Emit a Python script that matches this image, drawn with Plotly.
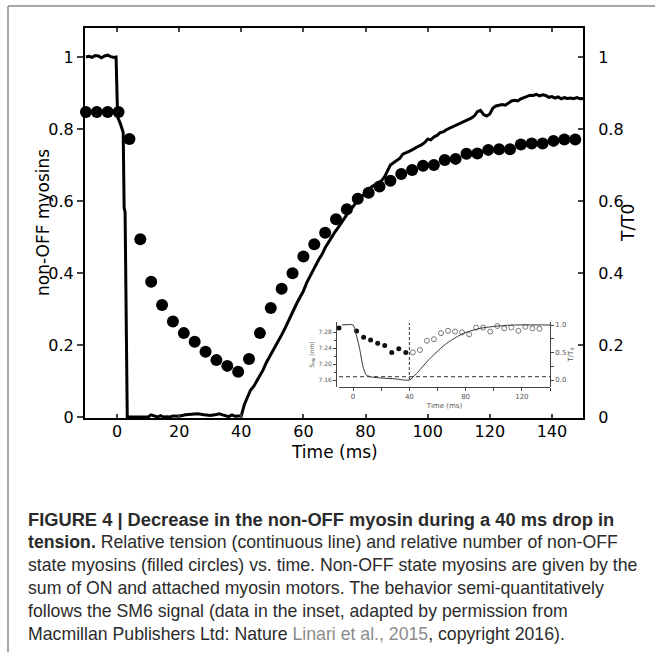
import plotly.graph_objects as go

# ---------------- data: main panel ----------------
# relative tension T/T0 (continuous line)
tension_time = [-10, -9, -8, -7, -6, -5, -4, -3, -2, -1, -0.3, 0, 0.2, 1, 2, 2.3, 2.6, 3.3,
                4, 6, 8, 10, 11, 12, 13, 14, 15, 16, 17, 18, 20, 22, 24, 26, 28, 30, 32, 33,
                34, 35, 36, 37, 38, 39, 40,
                41, 42, 43, 44, 45, 46, 47, 48, 49, 50, 51, 52, 53, 54, 55, 56, 57, 58, 59, 60,
                61, 62, 63, 64, 65, 66, 67, 68, 69, 70, 71, 72, 73, 74, 75, 76, 77, 78, 79, 80,
                81, 82, 83, 84, 85, 86, 87, 88, 89, 90, 91, 92, 93, 94, 95, 96, 97, 98, 99, 100,
                101, 102, 103, 104, 105, 106, 107, 108, 109, 110, 111, 112, 113, 114, 115, 116,
                117, 118, 119, 120, 121, 122, 123, 124, 125, 126, 127, 128, 129, 130, 131, 132,
                133, 134, 135, 136, 137, 138, 139, 140, 141, 142, 143, 144, 145, 146, 147, 148,
                149, 150]
tension_rel = [1.000, 1.002, 0.999, 1.004, 1.003, 0.998, 1.003, 1.005, 1.001, 0.999, 1.000,
               0.900, 0.833, 0.817, 0.790, 0.580, 0.570, 0.000,
               0.000, 0.000, 0.000, 0.000, 0.006, 0.002, 0.000, 0.004, 0.000, 0.001, 0.000,
               0.003, 0.002, 0.006, 0.008, 0.009, 0.006, 0.004, 0.007, 0.009, 0.006, 0.003,
               0.001, 0.006, 0.002, 0.003, 0.003,
               0.035, 0.055, 0.075, 0.085, 0.100, 0.118, 0.130, 0.150, 0.165, 0.180,
               0.198, 0.212, 0.228, 0.245, 0.262, 0.280, 0.300, 0.318, 0.335, 0.350,
               0.372, 0.390, 0.405, 0.422, 0.438, 0.452, 0.470, 0.484, 0.500, 0.512,
               0.524, 0.538, 0.550, 0.562, 0.573, 0.586, 0.596, 0.606, 0.615, 0.622,
               0.632, 0.640, 0.645, 0.650, 0.655, 0.665, 0.685, 0.700, 0.706, 0.712,
               0.718, 0.730, 0.733, 0.738, 0.742, 0.748, 0.752, 0.756, 0.762, 0.772,
               0.770, 0.778, 0.782, 0.790, 0.792, 0.798, 0.802, 0.806, 0.810, 0.812,
               0.818, 0.822, 0.826, 0.830, 0.836, 0.848, 0.852, 0.840, 0.836, 0.842,
               0.858, 0.864, 0.866, 0.868, 0.866, 0.872, 0.878, 0.880, 0.878, 0.884,
               0.888, 0.890, 0.894, 0.893, 0.896, 0.892, 0.895, 0.893, 0.888, 0.890,
               0.886, 0.889, 0.884, 0.887, 0.885, 0.886, 0.884, 0.887, 0.884, 0.885]

# relative number of non-OFF myosins (filled circles)
dot_time = [-10, -6.5, -3, 0.5, 4, 7.5, 11, 14.5, 18, 21.5, 25, 28.5, 32, 35.5, 39, 42.5,
            46, 49.5, 53, 56.5, 60, 63.5, 67, 70.5, 74, 77.5, 81, 84.5, 88, 91.5, 95, 98.5,
            102, 105.5, 109, 112.5, 116, 119.5, 123, 126.5, 130, 133.5, 137, 140.5, 144, 147.5]
non_off = [0.847, 0.847, 0.847, 0.847, 0.772, 0.494, 0.376, 0.311, 0.265, 0.233, 0.209,
           0.181, 0.158, 0.142, 0.126, 0.161, 0.233, 0.303, 0.356, 0.399, 0.446, 0.480,
           0.512, 0.549, 0.577, 0.606, 0.623, 0.640, 0.656, 0.675, 0.686, 0.698, 0.700,
           0.714, 0.717, 0.731, 0.732, 0.742, 0.744, 0.744, 0.757, 0.760, 0.760, 0.767,
           0.771, 0.771]

x_ticks = [0, 20, 40, 60, 80, 100, 120, 140]
y_ticks = [0, 0.2, 0.4, 0.6, 0.8, 1]

# ---------------- data: inset (SM6 signal) ----------------
inset_t_time = [-8, 0, 2, 4.8, 7.1, 9.5, 14, 21, 30, 40, 45.2, 54.8, 66.7, 78.6, 90.5,
                102.4, 114, 140]
inset_t_rel = [1.0, 1.0, 0.85, 0.55, 0.24, 0.09, 0.05, 0.035, 0.02, 0.0, 0.12, 0.395,
               0.67, 0.85, 0.94, 0.98, 1.0, 1.0]
inset_filled_time = [-10, 2.5, 7.5, 12.5, 17.5, 22.5, 27.5, 32.5, 37.5]
inset_filled_sm6 = [7.290, 7.2825, 7.267, 7.260, 7.252, 7.246, 7.229, 7.238, 7.229]
inset_open_time = [42.5, 47.5, 52.5, 57.5, 62.5, 67.5, 72.5, 77.5, 82.5, 87.5, 92.5, 97.5,
                   102.5, 107.5, 112.5, 117.5, 122.5, 127.5, 132.5]
inset_open_sm6 = [7.229, 7.235, 7.258, 7.262, 7.277, 7.283, 7.281, 7.279, 7.274, 7.291,
                  7.291, 7.281, 7.295, 7.289, 7.291, 7.283, 7.293, 7.289, 7.288]
inset_x_ticks = [0, 40, 80, 120]
inset_x_minor = [20, 60, 100, 140]
inset_sm6_ticks = [7.16, 7.20, 7.24, 7.28]
inset_sm6_labels = ["7.16", "7.20", "7.24", "7.28"]
inset_sm6_minor = [7.18, 7.22, 7.26]
inset_rel_ticks = [0, 0.5, 1.0]
inset_rel_labels = ["0.0", "0.5", "1.0"]
inset_rel_minor = [0.25, 0.75]

caption_lines = [
    "<b>FIGURE 4 | Decrease in the non-OFF myosin during a 40 ms drop in</b>",
    "<b>tension.</b> Relative tension (continuous line) and relative number of non-OFF",
    "state myosins (filled circles) vs. time. Non-OFF state myosins are given by the",
    "sum of ON and attached myosin motors. The behavior semi-quantitatively",
    "follows the SM6 signal (data in the inset, adapted by permission from",
    "Macmillan Publishers Ltd: Nature <span style='color:#8c8c8c'>Linari et al., 2015</span>, copyright 2016).",
]

# ---------------- layout helpers (pixel -> paper) ----------------
W, H = 655, 656
L, R, T, B = 85, 583, 28, 418


def px(x):
    return (x - L) / (R - L)


def py(y):
    return (B - y) / (B - T)


FONT = "DejaVu Sans, Verdana, sans-serif"
CAP_FONT = "Liberation Sans, Arial, sans-serif"

fig = go.Figure()

fig.add_trace(go.Scatter(x=tension_time, y=tension_rel, mode="lines",
                         line=dict(color="black", width=3), xaxis="x", yaxis="y2",
                         cliponaxis=False, showlegend=False))
fig.add_trace(go.Scatter(x=dot_time, y=non_off, mode="markers",
                         marker=dict(size=12, color="black"), xaxis="x", yaxis="y",
                         cliponaxis=False, showlegend=False))

# inset
fig.add_trace(go.Scatter(x=inset_t_time, y=inset_t_rel, mode="lines",
                         line=dict(color="#333333", width=1, shape="spline", smoothing=0.6),
                         xaxis="x3", yaxis="y4", showlegend=False))
fig.add_trace(go.Scatter(x=inset_filled_time, y=inset_filled_sm6, mode="markers",
                         marker=dict(size=5, color="#111111"), xaxis="x3", yaxis="y3",
                         cliponaxis=False, showlegend=False))
fig.add_trace(go.Scatter(x=inset_open_time, y=inset_open_sm6, mode="markers",
                         marker=dict(size=5, color="white", line=dict(color="#777777", width=1)),
                         xaxis="x3", yaxis="y3", cliponaxis=False, showlegend=False))

yr = [-1 / 360, 389 / 360]
xr = [-10.3, 150]

fig.update_layout(
    width=W, height=H,
    margin=dict(l=L, r=W - R, t=T, b=H - B),
    paper_bgcolor="white", plot_bgcolor="white",
    font=dict(family=FONT, color="black"),
    xaxis=dict(domain=[0, 1], range=xr, tickvals=x_ticks, ticks="inside", ticklen=4,
               tickwidth=1.5, showline=True, linewidth=2, linecolor="black", mirror="ticks",
               showgrid=False, zeroline=False, tickfont=dict(size=16, family=FONT),
               ticklabelstandoff=-2, anchor="y"),
    yaxis=dict(domain=[0, 1], range=yr, tickvals=y_ticks, ticks="outside", ticklen=6,
               tickwidth=1.5, showline=True, linewidth=2, linecolor="black",
               showgrid=False, zeroline=False, tickfont=dict(size=16, family=FONT)),
    yaxis2=dict(overlaying="y", side="right", range=yr, tickvals=y_ticks, ticks="inside",
                ticklen=5, tickwidth=1.5, showline=True, linewidth=2, linecolor="black",
                showgrid=False, zeroline=False, tickfont=dict(size=16, family=FONT),
                ticklabelstandoff=10, anchor="x"),
    xaxis3=dict(domain=[px(339), px(550)], range=[-10, 140], anchor="y3",
                tickvals=inset_x_ticks, ticks="outside", ticklen=3, tickwidth=0.8,
                tickcolor="#444", showline=True, linewidth=0.8, linecolor="#444",
                minor=dict(tickvals=inset_x_minor, ticks="outside", ticklen=3, tickcolor="#444"),
                showgrid=False, zeroline=False, tickfont=dict(size=7, color="#555"),
                title=dict(text="Time (ms)", font=dict(size=7, color="#555"), standoff=2)),
    yaxis3=dict(domain=[py(387), py(322)], range=[7.16 - 7 / 400, 7.16 + 58 / 400],
                anchor="free", position=px(336), tickvals=inset_sm6_ticks,
                ticktext=inset_sm6_labels, ticks="outside", ticklen=3, tickwidth=0.8,
                tickcolor="#444", showline=True, linewidth=0.8, linecolor="#444",
                minor=dict(tickvals=inset_sm6_minor, ticks="outside", ticklen=2, tickcolor="#444"),
                showgrid=False, zeroline=False, tickfont=dict(size=6, color="#555"),
                title=dict(text="S<sub>M6</sub> (nm)", font=dict(size=6, color="#555"), standoff=2)),
    yaxis4=dict(overlaying="y3", side="right", anchor="free", position=px(550),
                range=[-7 / 55, 58 / 55], tickvals=inset_rel_ticks, ticktext=inset_rel_labels,
                ticks="outside", ticklen=3, tickwidth=0.8, tickcolor="#444", showline=True,
                linewidth=0.8, linecolor="#444",
                minor=dict(tickvals=inset_rel_minor, ticks="outside", ticklen=3, tickcolor="#444"),
                showgrid=False, zeroline=False, tickfont=dict(size=7, color="#555"),
                title=dict(text="T/T<sub>0</sub>", font=dict(size=7, color="#555"), standoff=2)),
)

shapes = [
    # dashed lines in the inset
    dict(type="line", xref="x3", yref="y4", x0=-10, x1=140, y0=0.06, y1=0.06,
         line=dict(color="#333", width=1, dash="4px,3px")),
    dict(type="line", xref="x3", yref="y4", x0=40, x1=40, y0=0.0, y1=1.04,
         line=dict(color="#333", width=1, dash="3px,2px")),
    # page frame
    dict(type="line", xref="paper", yref="paper", x0=px(8), x1=px(655), y0=py(6), y1=py(6),
         line=dict(color="#8a8a8a", width=1.5)),
    dict(type="line", xref="paper", yref="paper", x0=px(8), x1=px(8), y0=py(6), y1=py(652),
         line=dict(color="#8a8a8a", width=1.5)),
]
fig.update_layout(shapes=shapes)

annotations = [
    dict(text="non-OFF myosins", xref="paper", yref="paper", x=px(43), y=py(223),
         xanchor="center", yanchor="middle", textangle=-90, showarrow=False,
         font=dict(size=17, family=FONT)),
    dict(text="T/T0", xref="paper", yref="paper", x=px(628), y=py(223),
         xanchor="center", yanchor="middle", textangle=-90, showarrow=False,
         font=dict(size=17, family=FONT)),
    dict(text="Time (ms)", xref="paper", yref="paper", x=px(334), y=py(452),
         xanchor="center", yanchor="middle", showarrow=False, font=dict(size=17, family=FONT)),
]
cap_y = [519, 542, 565, 588, 611, 634]
cap_size = [18.3, 17.7, 17.7, 17.7, 17.7, 17.7]
for line, yy, sz in zip(caption_lines, cap_y, cap_size):
    annotations.append(dict(text=line, xref="paper", yref="paper", x=px(26), y=py(yy),
                            xanchor="left", yanchor="middle", showarrow=False, align="left",
                            font=dict(size=sz, family=CAP_FONT, color="#2b2b2b")))
fig.update_layout(annotations=annotations)

fig.write_html("out.html")
